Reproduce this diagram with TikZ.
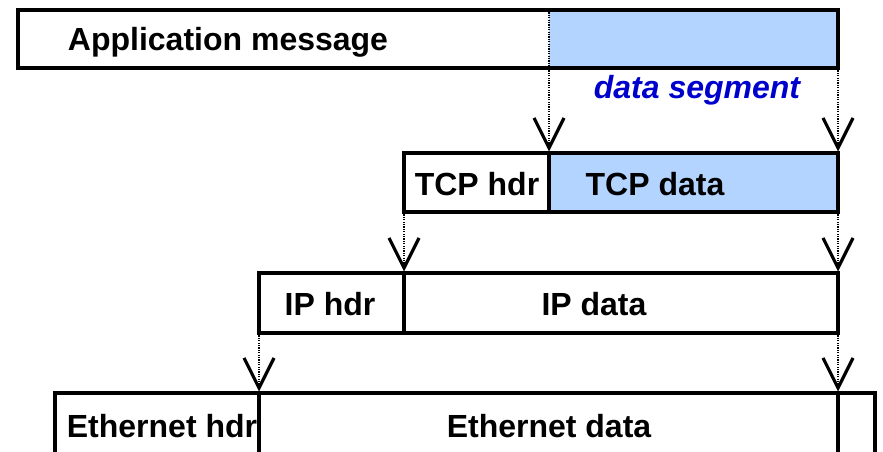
\documentclass[tikz,border=0pt]{standalone}
\usepackage{fontspec}
\setmainfont{Liberation Sans}
\usetikzlibrary{arrows.meta}
\definecolor{segblue}{RGB}{178,212,255}
\definecolor{txtblue}{RGB}{0,0,204}
\begin{document}
\begin{tikzpicture}[x=1pt,y=-1pt,
  cell/.style={draw=black, line width=3.4pt, rectangle, inner sep=0pt, outer sep=0pt, anchor=north west},
  lbl/.style={font=\fontsize{32}{38}\selectfont\bfseries, inner sep=0pt, anchor=base},
  dotline/.style={line width=2pt, dash pattern=on 1.2pt off 1.2pt},
  drop/.style={dotline, shorten >=1.5pt, -{Straight Barb[length=30pt,width=30pt,line width=3.2pt]}},
]
\path[use as bounding box, clip] (0,0) rectangle (883,452);
% application message
\node[cell, draw=none, fill=segblue, minimum width=289pt, minimum height=58pt] (appd) at (549,10) {};
\node[cell, minimum width=820pt, minimum height=58pt] (app) at (18,10) {};
\draw[dotline] (appd.north west) -- (appd.south west);
\node[lbl] (apptxt) at (228,51) {Application message};
\node[lbl, text=txtblue, font=\fontsize{32}{38}\selectfont\bfseries\itshape] (segtxt) at (697,98) {data segment};
% TCP
\node[cell, minimum width=145pt, minimum height=59pt] (tcph) at (404,153) {};
\node[cell, fill=segblue, minimum width=289pt, minimum height=59pt] (tcpd) at (549,153) {};
\node[lbl] (tcphtxt) at (477,195) {TCP hdr};
\node[lbl] (tcpdtxt) at (655,195) {TCP data};
% IP
\node[cell, minimum width=145pt, minimum height=60pt] (iph) at (259,273) {};
\node[cell, minimum width=434pt, minimum height=60pt] (ipd) at (404,273) {};
\node[lbl] (iphtxt) at (330,315) {IP hdr};
\node[lbl] (ipdtxt) at (594,315) {IP data};
% Ethernet
\node[cell, minimum width=204pt, minimum height=90pt] (ethh) at (55,393) {};
\node[cell, minimum width=579pt, minimum height=90pt] (ethd) at (259,393) {};
\node[cell, minimum width=37pt, minimum height=90pt] (etht) at (838,393) {};
\node[lbl] (ethhtxt) at (162,437) {Ethernet hdr};
\node[lbl] (ethdtxt) at (549,437) {Ethernet data};
% drops
\draw[drop] (appd.south west) -- (tcpd.north west);
\draw[drop] (app.south east) -- (tcpd.north east);
\draw[drop] (tcph.south west) -- (ipd.north west);
\draw[drop] (tcpd.south east) -- (ipd.north east);
\draw[drop] (iph.south west) -- (ethd.north west);
\draw[drop] (ipd.south east) -- (etht.north west);
\end{tikzpicture}
\end{document}
